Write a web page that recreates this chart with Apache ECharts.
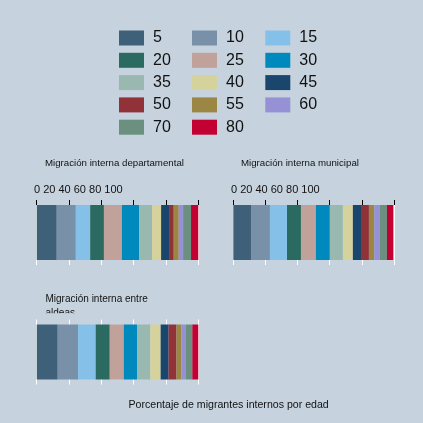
<!DOCTYPE html>
<html><head><meta charset="utf-8">
<script src="https://cdn.jsdelivr.net/npm/echarts@6/dist/echarts.min.js"></script>
<style>html,body{margin:0;padding:0;background:#c6d3df}#c{width:423px;height:423px}</style>
</head><body><div id="c"></div>
<script>
const ages = ['5','10','15','20','25','30','35','40','45','50','55','60','70','80'];
const colors = ['#3e6078','#7890a8','#85c0e9','#2a6a60','#c0a29a','#0089bd','#98b8b0','#d6d29c','#1a456c','#913239','#9c8644','#9591d4','#6b9080','#c20032'];
const departamental = [12.4,11.8,8.9,8.5,11.1,10.7,8.0,5.6,4.9,2.9,3.1,2.7,4.9,4.5];
const municipal = [11.0,11.8,10.6,8.7,9.3,8.7,8.1,6.2,5.6,4.4,3.3,3.5,4.4,3.9];
const aldeas = [13.0,12.6,10.9,8.7,8.7,8.2,8.2,6.4,4.9,4.9,3.1,2.5,4.2,3.7];
const panelTitles = ['Migración interna departamental','Migración interna municipal','Migración interna entre','aldeas'];
const tickLabels = ['0','20','40','60','80','100'];
const axisTitle = 'Porcentaje de migrantes internos por edad';

const panels = [departamental, municipal, aldeas];
const FONT = 'Liberation Sans, Arial, sans-serif';
const BG = '#c6d3df';
const grids = [
  {left:36.7, top:200, width:161.6, height:65},
  {left:233.3, top:200, width:160.7, height:65},
  {left:36.7, top:319.5, width:161.6, height:65}
];
const xAxes = grids.map((g,i)=>({
  gridIndex:i, type:'value', min:0, max:100, interval:20, position:'top',
  axisLine:{show:false},
  axisTick:{show:i<2, inside:true, length:5, lineStyle:{color:'#000', width:1}},
  axisLabel:{show:false},
  splitLine:{show:true, lineStyle:{color:'#ffffff', width:1}}
}));
const yAxes = grids.map((g,i)=>({
  gridIndex:i, type:'category', data:['a'],
  axisLine:{show:false}, axisTick:{show:false}, axisLabel:{show:false}, splitLine:{show:false}
}));
const series = [];
panels.forEach((vals,p)=>{
  ages.forEach((a,i)=>{
    series.push({type:'bar', name:a, xAxisIndex:p, yAxisIndex:p, stack:'s'+p,
      barWidth:55, data:[vals[i]], itemStyle:{color:colors[i]}, emphasis:{disabled:true}});
  });
});
const legendCols = [['5','20','35','50','70'],['10','25','40','55','80'],['15','30','45','60']];
const legendLeft = [119,192,265.3];
const legends = legendCols.map((d,i)=>({
  data:d, left:legendLeft[i], top:30, orient:'vertical', padding:0, icon:'rect',
  itemWidth:25, itemHeight:15, itemGap:6.3, selectedMode:false,
  textStyle:{fontSize:16, color:'#111', fontFamily:FONT, lineHeight:15, padding:[0,0,0,4]}
}));
const tickText = tickLabels.join(' ');
const graphic = [
  {type:'text', left:34, top:184.5, style:{text:tickText, fill:'#111', font:'11px '+FONT}},
  {type:'text', left:231, top:184.5, style:{text:tickText, fill:'#111', font:'11px '+FONT}},
  {type:'text', left:45, top:158.5, style:{text:panelTitles[0], font:'9.7px '+FONT, fill:'#111'}},
  {type:'text', left:241, top:158.5, style:{text:panelTitles[1], font:'9.7px '+FONT, fill:'#111'}},
  {type:'text', left:45.5, top:294.5, style:{text:panelTitles[2], font:'10px '+FONT, fill:'#111'}},
  {type:'text', left:45.5, top:308.5, z:1, style:{text:panelTitles[3], font:'10px '+FONT, fill:'#111'}},
  {type:'rect', shape:{x:40, y:313.3, width:80, height:6}, z:2, style:{fill:BG}},
  {type:'text', left:128.5, top:400, style:{text:axisTitle, font:'10.6px '+FONT, fill:'#111'}}
];
const chart = echarts.init(document.getElementById('c'), null, {renderer:'canvas'});
chart.setOption({
  backgroundColor:BG, animation:false,
  grid:grids, xAxis:xAxes, yAxis:yAxes, series:series, legend:legends, graphic:graphic
});
</script></body></html>
